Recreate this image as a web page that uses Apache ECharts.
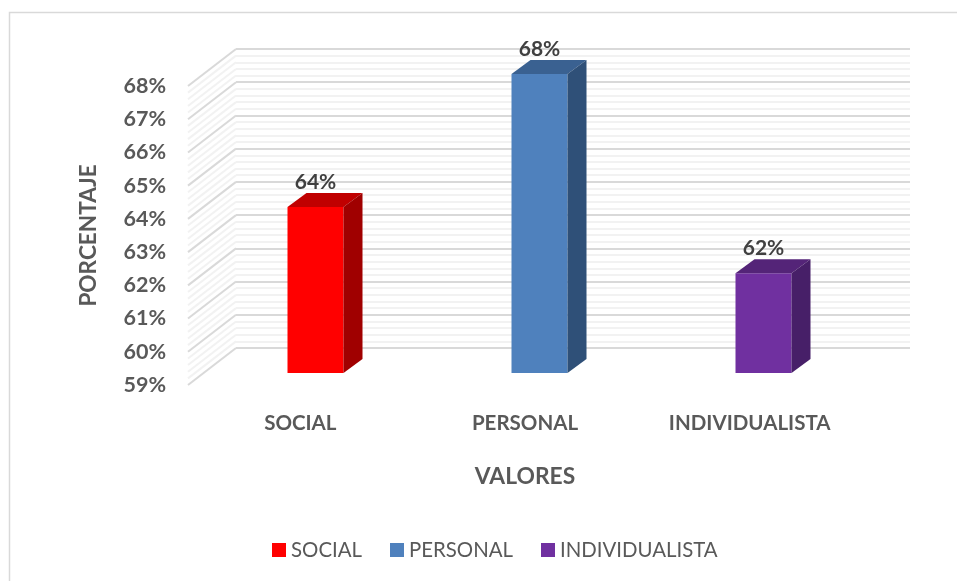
<!DOCTYPE html>
<html>
<head>
<meta charset="utf-8">
<style>
  html, body { margin: 0; padding: 0; background: #fff; }
  #main { width: 957px; height: 581px; }
</style>
<script src="https://cdn.jsdelivr.net/npm/echarts@6/dist/echarts.min.js"></script>
</head>
<body>
<div id="main"></div>
<script>
const categories = ['SOCIAL', 'PERSONAL', 'INDIVIDUALISTA']
const values = [64, 68, 62]
const barColors = ['#ff0000', '#4f81bd', '#7030a0']
const topColors = ['#c00000', '#3a6191', '#542478']
const sideColors = ['#a00000', '#2f5078', '#471f68']
const axisMin = 59
const axisMax = 68

const fontFamily = 'Lato, "Open Sans", sans-serif'
const textColor = '#595959'

// minor lines on the side wall, every 0.2
const wallLevels = []
for (let i = 0; i <= (axisMax - axisMin) * 5; i++) {
  wallLevels.push(axisMin + i / 5)
}

// the fake 3d depth in pixels
const wallDx = 48
const wallDy = -37
const barDx = 19
const barDy = -14

function renderWall(params, api) {
  const level = api.value(0)
  const x = params.coordSys.x
  const y = api.coord([0, level])[1]
  const major = Math.abs(level - Math.round(level)) < 0.01
  return {
    type: 'line',
    shape: {x1: x, y1: y, x2: x + wallDx, y2: y + wallDy},
    style: {stroke: major ? '#d9d9d9' : '#f2f2f2', lineWidth: 2}
  }
}

function renderBar(params, api) {
  const cat = api.value(0)
  const val = api.value(1)
  const top = api.coord([cat, val])
  const bottom = api.coord([cat, axisMin])
  const w = 56
  const x0 = top[0] - w / 2
  const x1 = top[0] + w / 2
  return {
    type: 'group',
    children: [
      {
        type: 'rect',
        shape: {x: x0, y: top[1], width: w, height: bottom[1] - top[1]},
        style: {fill: barColors[cat]}
      },
      {
        type: 'polygon',
        shape: {points: [[x0, top[1]], [x0 + barDx, top[1] + barDy], [x1 + barDx, top[1] + barDy], [x1, top[1]]]},
        style: {fill: topColors[cat]}
      },
      {
        type: 'polygon',
        shape: {points: [[x1, top[1]], [x1 + barDx, top[1] + barDy], [x1 + barDx, bottom[1] + barDy], [x1, bottom[1]]]},
        style: {fill: sideColors[cat]}
      },
      {
        type: 'text',
        style: {
          text: val + '%',
          x: top[0],
          y: top[1] - 25,
          align: 'center',
          verticalAlign: 'middle',
          fill: '#404040',
          font: 'bold 21px ' + fontFamily
        }
      }
    ]
  }
}

const chart = echarts.init(document.getElementById('main'), null, {renderer: 'canvas'})

const option = {
  animation: false,
  backgroundColor: '#fff',
  textStyle: {fontFamily: fontFamily},
  graphic: [{
    type: 'rect',
    silent: true,
    z: -10,
    shape: {x: 9.5, y: 12.5, width: 1000, height: 1000},
    style: {fill: 'none', stroke: '#d9d9d9', lineWidth: 1.5}
  }],
  legend: {
    data: categories,
    left: 272,
    top: 540,
    padding: 0,
    icon: 'rect',
    itemWidth: 14,
    itemHeight: 14,
    itemGap: 28,
    textStyle: {color: textColor, fontSize: 20.4, fontFamily: fontFamily}
  },
  grid: [
    // back wall
    {left: 236, top: 49, width: 674, height: 299},
    // front edge of the side wall, holds the value labels
    {left: 188, top: 86, width: 674, height: 299},
    // plane of the bars
    {left: 203.5, top: 74, width: 672, height: 299}
  ],
  xAxis: [
    {gridIndex: 0, type: 'category', data: categories, show: false},
    {
      gridIndex: 1,
      type: 'category',
      data: categories,
      axisLine: {show: false},
      axisTick: {show: false},
      axisLabel: {margin: 28, color: textColor, fontSize: 20.5, fontWeight: 'bold', fontFamily: fontFamily},
      name: 'VALORES',
      nameLocation: 'middle',
      nameGap: 80,
      nameTextStyle: {color: textColor, fontSize: 22.8, fontWeight: 'bold', fontFamily: fontFamily}
    },
    {gridIndex: 2, type: 'category', data: categories, show: false}
  ],
  yAxis: [
    {
      gridIndex: 0,
      type: 'value',
      min: axisMin,
      max: axisMax,
      interval: 1,
      axisLine: {show: false},
      axisTick: {show: false},
      axisLabel: {show: false},
      splitLine: {lineStyle: {color: '#d9d9d9', width: 2}},
      minorTick: {show: false, splitNumber: 5},
      minorSplitLine: {show: true, lineStyle: {color: '#f2f2f2', width: 2}}
    },
    {
      gridIndex: 1,
      type: 'value',
      min: axisMin,
      max: axisMax,
      interval: 1,
      axisLine: {show: false},
      axisTick: {show: false},
      splitLine: {show: false},
      axisLabel: {
        margin: 22,
        color: textColor,
        fontSize: 21.5,
        fontWeight: 'bold',
        fontFamily: fontFamily,
        verticalAlignMinLabel: 'middle',
        verticalAlignMaxLabel: 'middle',
        formatter: '{value}%'
      },
      name: 'PORCENTAJE',
      nameLocation: 'middle',
      nameGap: 88,
      nameTextStyle: {color: textColor, fontSize: 22.6, fontWeight: 'bold', fontFamily: fontFamily}
    },
    {gridIndex: 2, type: 'value', min: axisMin, max: axisMax, interval: 1, show: false, splitLine: {show: false}}
  ],
  series: [
    {
      type: 'custom',
      name: 'wall',
      xAxisIndex: 1,
      yAxisIndex: 1,
      silent: true,
      encode: {y: 0},
      data: wallLevels.map(v => [v]),
      renderItem: renderWall,
      z: 1
    }
  ].concat(categories.map((name, i) => ({
    type: 'custom',
    name: name,
    xAxisIndex: 2,
    yAxisIndex: 2,
    color: barColors[i],
    itemStyle: {color: barColors[i]},
    encode: {x: 0, y: 1},
    data: [[i, values[i]]],
    renderItem: renderBar,
    z: 3
  })))
}

chart.setOption(option)
</script>
</body>
</html>
